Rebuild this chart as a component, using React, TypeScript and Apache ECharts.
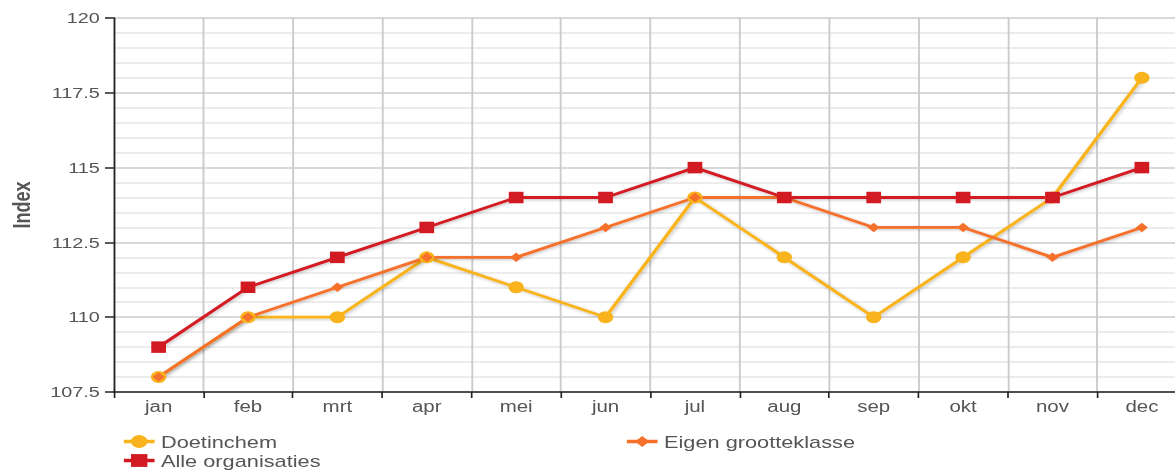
import React, { useEffect, useRef } from "react";
import * as echarts from "echarts";

const months = ["jan", "feb", "mrt", "apr", "mei", "jun", "jul", "aug", "sep", "okt", "nov", "dec"];
const doetinchem = [108, 110, 110, 112, 111, 110, 114, 112, 110, 112, 114, 118];
const eigenGrootteklasse = [108, 110, 111, 112, 112, 113, 114, 114, 113, 113, 112, 113];
const alleOrganisaties = [109, 111, 112, 113, 114, 114, 115, 114, 114, 114, 114, 115];

const FONT = "'Liberation Sans', Arial, sans-serif";
// The reference picture is stretched horizontally and its plot runs past the right edge.
const SX = 1.28;
const W = 927;

export default function App() {
  const ref = useRef<HTMLDivElement>(null);
  useEffect(() => {
    if (!ref.current) return;
    const chart = echarts.init(ref.current, undefined, { renderer: "svg" });
    const shadow = { shadowColor: "rgba(0,0,0,0.25)", shadowBlur: 3, shadowOffsetX: 1, shadowOffsetY: 1 };
    const legendText = { color: "#555", fontSize: 17, fontFamily: FONT };
    chart.setOption({
      animation: false,
      textStyle: { fontFamily: FONT },
      grid: { left: 87.5, top: 18, right: 0, bottom: 79 },
      legend: [
        {
          data: ["Doetinchem"], left: 90, top: 428, itemWidth: 24, itemHeight: 16, itemGap: 6,
          lineStyle: { width: 3.5 }, textStyle: legendText,
        },
        {
          data: ["Eigen grootteklasse"], left: 483, top: 428, itemWidth: 24, itemHeight: 14, itemGap: 6,
          lineStyle: { width: 3.5 }, textStyle: legendText,
        },
        {
          data: ["Alle organisaties"], left: 90, top: 447, itemWidth: 24, itemHeight: 16, itemGap: 6,
          lineStyle: { width: 3.5 }, textStyle: legendText,
        },
      ],
      xAxis: {
        type: "category",
        data: months,
        boundaryGap: true,
        axisLine: { lineStyle: { color: "#222", width: 1.5 } },
        axisTick: { show: true, length: 6, lineStyle: { color: "#222", width: 1.3 } },
        axisLabel: { color: "#555", fontSize: 16, margin: 6, fontFamily: FONT },
        splitLine: { show: true, lineStyle: { color: "#cccccc", width: 1.5 } },
      },
      yAxis: {
        type: "value",
        min: 107.5,
        max: 120,
        interval: 2.5,
        name: "Index",
        nameLocation: "middle",
        nameGap: 63,
        nameRotate: 90,
        nameTextStyle: { color: "#555", fontSize: 18, fontWeight: "bold", fontFamily: FONT },
        axisLine: { show: true, lineStyle: { color: "#222", width: 1.3 } },
        axisTick: { show: true, length: 7, lineStyle: { color: "#222", width: 1.5 } },
        axisLabel: { color: "#555", fontSize: 15.5, margin: 11, fontFamily: FONT },
        splitLine: { show: true, lineStyle: { color: "#cccccc", width: 1.5 } },
        minorTick: { show: false, splitNumber: 5 },
        minorSplitLine: { show: true, lineStyle: { color: "#e6e6e6", width: 1.5 } },
      },
      series: [
        {
          name: "Doetinchem", type: "line", data: doetinchem,
          symbol: "circle", symbolSize: 12,
          itemStyle: { color: "#f9b31c" },
          lineStyle: { color: "#f9b31c", width: 2.8, ...shadow },
        },
        {
          name: "Eigen grootteklasse", type: "line", data: eigenGrootteklasse,
          symbol: "diamond", symbolSize: 9.5,
          itemStyle: { color: "#f5702a" },
          lineStyle: { color: "#f5702a", width: 2.8, ...shadow },
        },
        {
          name: "Alle organisaties", type: "line", data: alleOrganisaties,
          symbol: "rect", symbolSize: 11.5,
          itemStyle: { color: "#d21a22" },
          lineStyle: { color: "#d21a22", width: 2.8, ...shadow },
        },
      ],
    });
    return () => chart.dispose();
  }, []);
  return (
    <div style={{ position: "fixed", left: 0, top: 0, width: 1175, height: 471, overflow: "hidden" }}>
      <div
        ref={ref}
        style={{
          position: "absolute", left: 0, top: 0, width: W, height: 471,
          transform: `scaleX(${SX})`, transformOrigin: "0 0",
        }}
      />
    </div>
  );
}
